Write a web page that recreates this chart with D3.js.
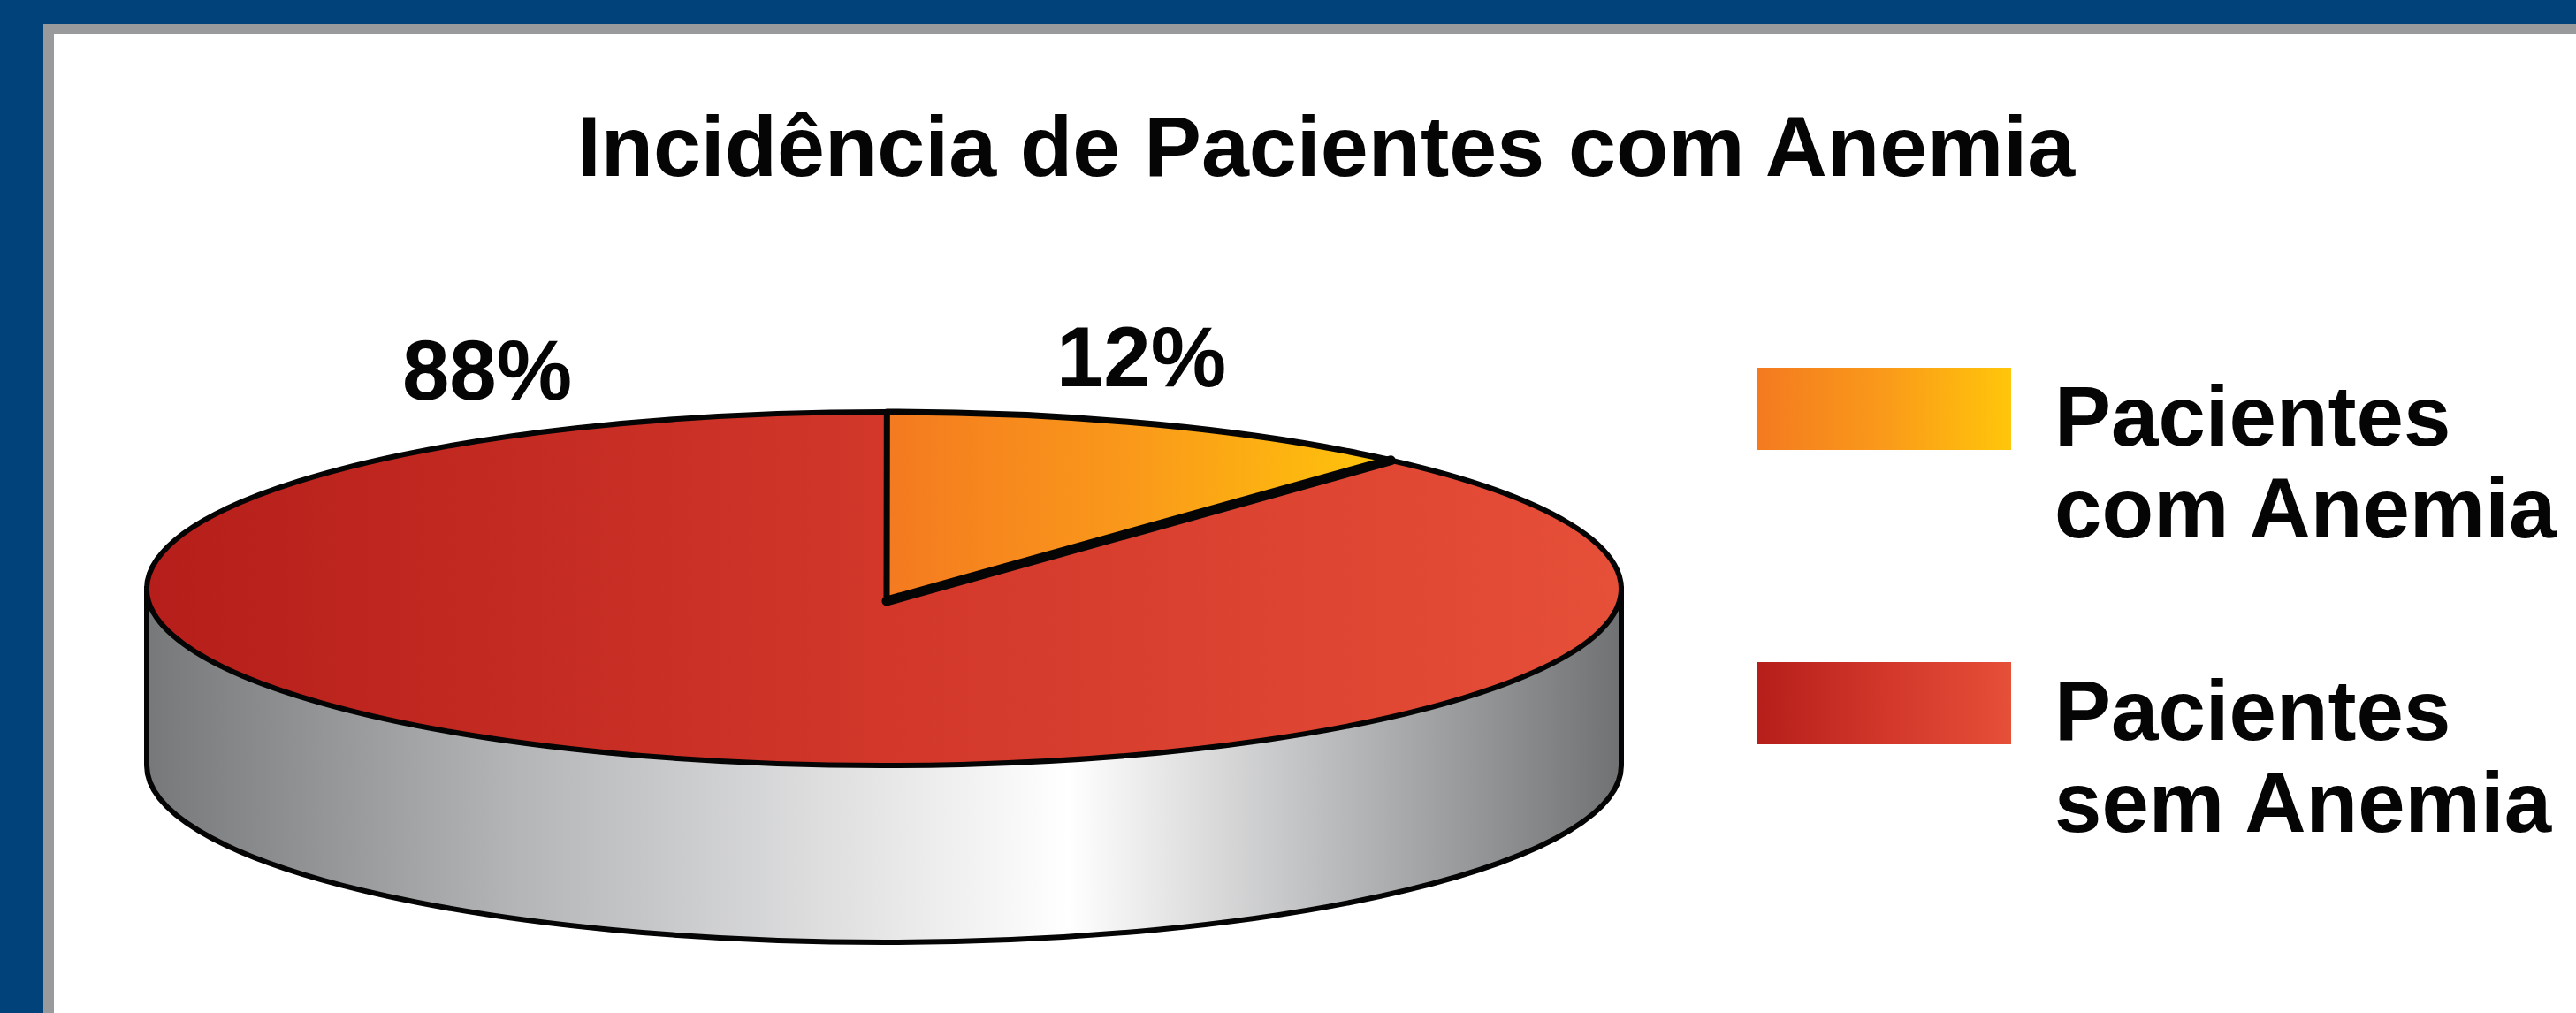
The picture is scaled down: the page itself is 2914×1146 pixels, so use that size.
<!DOCTYPE html>
<html>
<head>
<meta charset="utf-8">
<script src="https://cdn.jsdelivr.net/npm/d3@7"></script>
<style>
  html, body { margin: 0; padding: 0; background: #02427a; }
  svg { display: block; }
  text { font-family: "Liberation Sans", Arial, sans-serif; font-weight: bold; fill: #050505; }
</style>
</head>
<body>
<svg id="chart" width="2914" height="1146"></svg>
<script>
const titleText = "Incidência de Pacientes com Anemia";
const categories = ["Pacientes com Anemia", "Pacientes sem Anemia"];
const values = [12, 88];
const valueLabels = ["12%", "88%"];
const legendLines = [["Pacientes", "com Anemia"], ["Pacientes", "sem Anemia"]];

const svg = d3.select("#chart");
const defs = svg.append("defs");

function addGradient(id, stops) {
  const g = defs.append("linearGradient").attr("id", id);
  stops.forEach(([o, c]) => g.append("stop").attr("offset", o).attr("stop-color", c));
}
addGradient("grad-com", [[0, "#f47a20"], [0.5, "#fa9a1a"], [1, "#ffc60a"]]);
addGradient("grad-sem", [[0, "#b51e1a"], [0.5, "#d2372a"], [1, "#e64f38"]]);
addGradient("grad-side", [[0, "#77787a"], [0.25, "#b4b5b7"], [0.625, "#ffffff"], [0.85, "#a9aaac"], [1, "#707173"]]);
const fills = ["url(#grad-com)", "url(#grad-sem)"];

// panel
svg.append("rect").attr("x", 49).attr("y", 27).attr("width", 2865).attr("height", 1119).attr("fill", "#999a9c");
svg.append("rect").attr("x", 61).attr("y", 39).attr("width", 2853).attr("height", 1107).attr("fill", "#ffffff");

svg.append("text").attr("x", 1500).attr("y", 199)
  .attr("text-anchor", "middle").attr("font-size", 97).text(titleText);

// pie
const cx = 1000, cy = 666, rx = 834, ry = 200, depth = 200;
const apex = [1003, 680]; // the wedges meet a little below the ellipse centre in the original

svg.append("path")
  .attr("d", `M${cx - rx},${cy} L${cx - rx},${cy + depth} A${rx},${ry} 0 0 0 ${cx + rx},${cy + depth} L${cx + rx},${cy} Z`)
  .attr("fill", "url(#grad-side)")
  .attr("stroke", "#050505")
  .attr("stroke-width", 6);

const pie = d3.pie().sort(null).startAngle(0.004).endAngle(2 * Math.PI + 0.004);
const slices = pie(values);
const rim = (a) => [cx + rx * Math.sin(a), cy - ry * Math.cos(a)];
const sliceD = (d) => {
  const [x0, y0] = rim(d.startAngle);
  const [x1, y1] = rim(d.endAngle);
  const large = d.endAngle - d.startAngle > Math.PI ? 1 : 0;
  return `M${apex[0]},${apex[1]} L${x0},${y0} A${rx},${ry} 0 ${large} 1 ${x1},${y1} Z`;
};

// 88% slice goes first so the smaller one's outline stays on top
svg.append("g")
  .selectAll("path")
  .data(slices.map((d, i) => ({ ...d, i })).reverse())
  .join("path")
  .attr("d", sliceD)
  .attr("fill", (d) => fills[d.i])
  .attr("stroke", "#050505")
  .attr("stroke-width", (d) => (d.i === 0 ? 7 : 6))
  .attr("stroke-linejoin", "round");

// the lower edge of the small wedge is drawn heavier
const edgeEnd = rim(slices[0].endAngle);
svg.append("line")
  .attr("x1", apex[0]).attr("y1", apex[1])
  .attr("x2", edgeEnd[0]).attr("y2", edgeEnd[1])
  .attr("stroke", "#050505")
  .attr("stroke-width", 11)
  .attr("stroke-linecap", "round");

// value labels
const labelPos = [[1291, 437], [551, 452]];
svg.selectAll("text.value")
  .data(valueLabels)
  .join("text")
  .attr("class", "value")
  .attr("x", (d, i) => labelPos[i][0])
  .attr("y", (d, i) => labelPos[i][1])
  .attr("text-anchor", "middle")
  .attr("font-size", 96)
  .text((d) => d);

// legend
const legendY = d3.scalePoint().domain(categories).range([416, 749]);
const legend = svg.selectAll("g.legend")
  .data(categories)
  .join("g")
  .attr("class", "legend")
  .attr("transform", (d) => `translate(1988,${legendY(d)})`);
legend.append("rect")
  .attr("width", 287).attr("height", 93)
  .attr("fill", (d, i) => fills[i]);
legend.each(function (d, i) {
  d3.select(this).selectAll("text")
    .data(legendLines[i])
    .join("text")
    .attr("x", 336)
    .attr("y", (t, j) => 88 + j * 104)
    .attr("font-size", 96)
    .text((t) => t);
});
</script>
</body>
</html>
